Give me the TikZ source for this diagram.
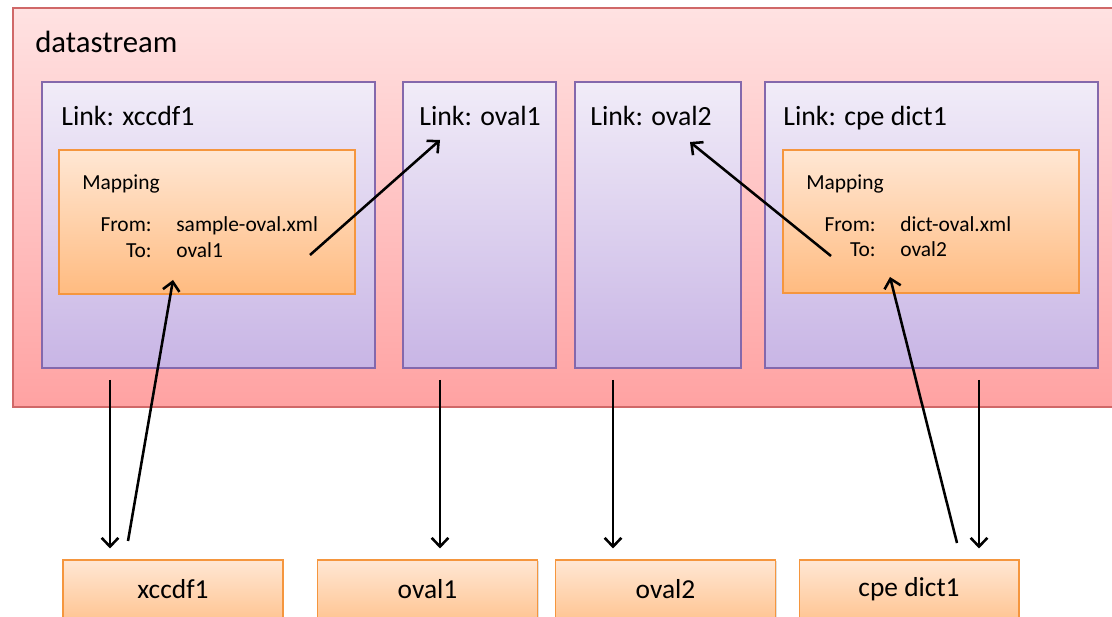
\documentclass[tikz,border=0pt]{standalone}
\usepackage{fontspec}
\setmainfont{Carlito}
\usetikzlibrary{fit,arrows.meta,shadows}

\definecolor{dsTop}{HTML}{FFE2E2}
\definecolor{dsBot}{HTML}{FFA2A2}
\definecolor{dsLine}{HTML}{D06868}
\definecolor{lkTop}{HTML}{F1ECF8}
\definecolor{lkBot}{HTML}{C8B5E5}
\definecolor{lkLine}{HTML}{8468AC}
\definecolor{mpTop}{HTML}{FFE7D4}
\definecolor{mpBot}{HTML}{FFBB80}
\definecolor{mpLine}{HTML}{F5963E}

\tikzset{
  softshadow/.style={drop shadow={shadow xshift=0.6pt, shadow yshift=-0.8pt, opacity=0.25}},
  dsbox/.style={draw=dsLine, top color=dsTop, bottom color=dsBot, inner sep=0pt, line width=0.6pt, softshadow},
  linkbox/.style={draw=lkLine, top color=lkTop, bottom color=lkBot, inner sep=0pt, line width=0.6pt, softshadow},
  mapbox/.style={draw=mpLine, top color=mpTop, bottom color=mpBot, inner sep=0pt, line width=0.6pt, softshadow},
  filebox/.style={mapbox, bottom color=mpBot!75!mpTop, minimum width=4.4cm, minimum height=1.16cm,
    font=\fontsize{15.6}{18}\selectfont},
  linklabel/.style={anchor=base west, inner sep=0pt, font=\fontsize{15.8}{19}\selectfont},
  maptext/.style={inner sep=0pt, font=\fontsize{12.2}{14}\selectfont},
  arr/.style={-{Straight Barb[length=5pt,width=9.5pt]}, line width=1.45pt},
}

\begin{document}
\begin{tikzpicture}[x=0.02cm, y=-0.02cm]
  \useasboundingbox (0,0) rectangle (1112,617);
  \clip (0,0) rectangle (1112,617);

  % datastream
  \node[dsbox, fit={(13,8) (1140,407)}] (ds) {};
  \node[anchor=base west, inner sep=0pt, font=\fontsize{17.5}{21}\selectfont] (dslabel) at (35,53) {datastream};

  % links
  \node[linkbox, fit={(42,82) (375,368)}] (lxccdf) {};
  \node[linkbox, fit={(403,82) (556,368)}] (loval1) {};
  \node[linkbox, fit={(575,82) (741,368)}] (loval2) {};
  \node[linkbox, fit={(765,82) (1098,368)}] (lcpe) {};
  \node[linklabel] (lxccdflabel) at (61,126) {Link: xccdf1};
  \node[linklabel] (loval1label) at (419,126) {Link: oval1};
  \node[linklabel] (loval2label) at (590,126) {Link: oval2};
  \node[linklabel] (lcpelabel) at (783,126) {Link: cpe dict1};

  % mappings
  \node[mapbox, fit={(59,150) (355,294)}] (map1) {};
  \node[maptext, anchor=base west] (map1title) at (82,190) {Mapping};
  \node[maptext, anchor=base east] (map1from) at (152,232) {From:};
  \node[maptext, anchor=base east] (map1to) at (152,258) {To:};
  \node[maptext, anchor=base west] (map1src) at (176,232) {sample-oval.xml};
  \node[maptext, anchor=base west] (map1dst) at (176,258) {oval1};

  \node[mapbox, fit={(783,150) (1079,293)}] (map2) {};
  \node[maptext, anchor=base west] (map2title) at (806,190) {Mapping};
  \node[maptext, anchor=base east] (map2from) at (876,232) {From:};
  \node[maptext, anchor=base east] (map2to) at (876,257) {To:};
  \node[maptext, anchor=base west] (map2src) at (900,232) {dict-oval.xml};
  \node[maptext, anchor=base west] (map2dst) at (900,257) {oval2};

  % files
  \node[filebox] (fxccdf) at (173,589) {xccdf1};
  \node[filebox] (foval1) at (427.5,589) {oval1};
  \node[filebox] (foval2) at (665.5,589) {oval2};
  \node[filebox] (fcpe) at (909,589) {cpe dict1};

  % arrow ends
  \coordinate (xccdfout) at (110,380);
  \coordinate (xccdfin) at (128,541);
  \coordinate (map1in) at (173,280);
  \coordinate (map1out) at (310,255);
  \coordinate (oval1in) at (440,140);
  \coordinate (oval1out) at (440,380);
  \coordinate (oval2out) at (613,380);
  \coordinate (oval2in) at (690,142);
  \coordinate (map2out) at (831,256);
  \coordinate (map2in) at (890,277);
  \coordinate (cpein) at (957,543);
  \coordinate (cpeout) at (979,380);

  \draw[arr, shorten >=0.22cm] (xccdfout) -- (xccdfout |- fxccdf.north);
  \draw[arr] (xccdfin) -- (map1in);
  \draw[arr] (map1out) -- (oval1in);
  \draw[arr, shorten >=0.22cm] (oval1out) -- (oval1out |- foval1.north);
  \draw[arr, shorten >=0.22cm] (oval2out) -- (oval2out |- foval2.north);
  \draw[arr] (map2out) -- (oval2in);
  \draw[arr] (cpein) -- (map2in);
  \draw[arr, shorten >=0.22cm] (cpeout) -- (cpeout |- fcpe.north);
\end{tikzpicture}
\end{document}
